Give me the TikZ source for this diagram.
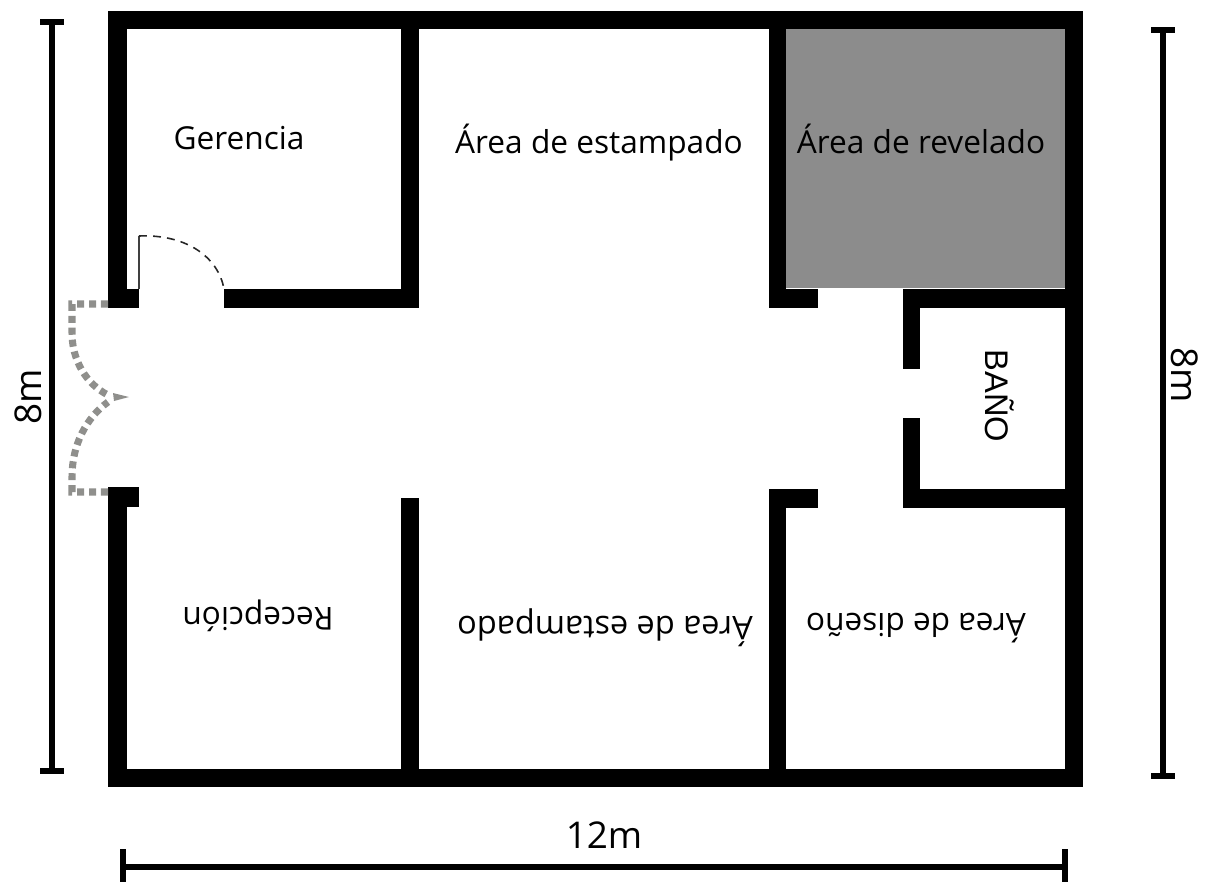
\documentclass[tikz,border=0pt]{standalone}
\usepackage{fontspec}
\setmainfont{Open Sans}
\newfontfamily\banofont{Liberation Sans}
\tikzset{
  wall/.style={fill=black},
  dim/.style={draw=black, line width=3.6pt},
  swing/.style={draw=swinggray, line width=4pt, dash pattern=on 4pt off 2.8pt},
  room/.style={font=\fontsize{18}{22}\selectfont, inner sep=0pt},
  measure/.style={font=\fontsize{21}{25}\selectfont, inner sep=0pt}
}
\definecolor{swinggray}{HTML}{8F8F8C}
\definecolor{darkroom}{HTML}{8C8C8C}
\begin{document}
\begin{tikzpicture}[x=0.02cm, y=-0.02cm]
\useasboundingbox (0,0) rectangle (1217,882);
% darkroom
\fill[darkroom] (786,29) rectangle (1065,288);
% outer walls
\fill[wall] (108,11) rectangle (1083,29);
\fill[wall] (108,769) rectangle (1083,787);
\fill[wall] (1065,11) rectangle (1083,787);
\fill[wall] (108,11) rectangle (127,308);
\fill[wall] (108,289) rectangle (139,308);
\fill[wall] (108,487) rectangle (139,507);
\fill[wall] (108,487) rectangle (127,787);
% inner walls
\fill[wall] (401,29) rectangle (419,308);
\fill[wall] (224,289) rectangle (419,308);
\fill[wall] (401,498) rectangle (419,769);
\fill[wall] (769,29) rectangle (786,308);
\fill[wall] (769,289) rectangle (818,308);
\fill[wall] (769,489) rectangle (818,508);
\fill[wall] (769,489) rectangle (786,769);
% bathroom
\fill[wall] (903,289) rectangle (1065,308);
\fill[wall] (903,289) rectangle (920,369);
\fill[wall] (903,418) rectangle (920,508);
\fill[wall] (903,489) rectangle (1065,508);
% office door
\draw[line width=0.9pt, black!75] (139,289) -- (139,236);
\draw[line width=0.9pt, black!85, dash pattern=on 4.5pt off 3.5pt] (139,236) .. controls (185,234) and (218,256) .. (224,289);
% entrance doors
\draw[swing] (108,304) -- (72,304) -- (72,333) .. controls (72,360) and (86,384) .. (108,395);
\draw[swing] (108,492) -- (72,492) -- (72,477) .. controls (72,445) and (86,418) .. (108,402);
\fill[swinggray] (113,393) -- (129,397) -- (114,401) -- cycle;
% dimensions
\draw[dim] (52,22) -- (52,771);
\draw[dim] (40,22) -- (64,22);
\draw[dim] (40,771) -- (64,771);
\draw[dim] (1163,30) -- (1163,776);
\draw[dim] (1151,30) -- (1175,30);
\draw[dim] (1151,776) -- (1175,776);
\draw[dim] (123,867) -- (1065,867);
\draw[dim] (123,849) -- (123,882);
\draw[dim] (1065,849) -- (1065,882);
% labels
\node[room] (gerencia) at (239,138) {Gerencia};
\node[room] (estampadoA) at (599,143) {Área de estampado};
\node[room] (revelado) at (921,139) {Área de revelado};
\node[room, rotate=180] (recepcion) at (258,616) {Recepción};
\node[room, rotate=180, font=\fontsize{18.5}{22}\selectfont] (estampadoB) at (605,628) {Área de estampado};
\node[room, rotate=180] (diseno) at (916,628) {Área de diseño};
\node[room, rotate=-90, font=\banofont\fontsize{18.6}{20}\selectfont] (bano) at (1000,396) {BAÑO};
\node[measure, rotate=90] (altoA) at (28,397) {8m};
\node[measure, rotate=-90] (altoB) at (1185,375) {8m};
\node[measure] (ancho) at (604,835) {12m};
\end{tikzpicture}
\end{document}
